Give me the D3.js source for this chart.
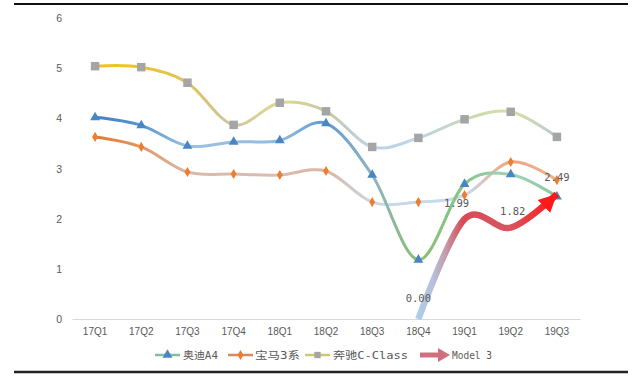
<!DOCTYPE html>
<html><head><meta charset="utf-8">
<script src="https://cdn.jsdelivr.net/npm/d3@7"></script>
<style>
html,body{margin:0;padding:0;background:#fff;}
svg{display:block;}
</style></head>
<body>
<svg id="c" width="640" height="376"></svg>
<script>
const categories = ["17Q1","17Q2","17Q3","17Q4","18Q1","18Q2","18Q3","18Q4","19Q1","19Q2","19Q3"];
const audiA4 = [4.02,3.86,3.45,3.53,3.56,3.90,2.87,1.18,2.69,2.88,2.44];
const bmw3 = [3.63,3.43,2.93,2.89,2.87,2.95,2.33,2.33,2.47,3.13,2.77];
const benzC = [5.04,5.02,4.71,3.87,4.31,4.14,3.43,3.61,3.98,4.13,3.63];
const model3Cats = ["18Q4","19Q1","19Q2","19Q3"];
const model3 = [0.00,1.99,1.82,2.49];
const yTicks = [0,1,2,3,4,5,6];
const seriesNames = ["奥迪A4","宝马3系","奔驰C-Class","Model 3"];

const svg = d3.select("#c");
const x = d3.scaleBand().domain(categories).range([72,580]);
const cx = d => x(d) + x.bandwidth()/2;
const y = d3.scaleLinear().domain([0,6]).range([319,18]);

// top / bottom rules
svg.append("line").attr("x1",14).attr("x2",628).attr("y1",4).attr("y2",4).attr("stroke","#111").attr("stroke-width",2);
svg.append("line").attr("x1",14).attr("x2",628).attr("y1",372).attr("y2",372).attr("stroke","#222").attr("stroke-width",2.5);

// y labels
svg.append("g").selectAll("text").data(yTicks).join("text")
  .attr("x",62).attr("y",d=>y(d)+4).attr("text-anchor","end")
  .attr("font-family","Liberation Sans, Arial, sans-serif").attr("font-size",10.5).attr("fill","#595959")
  .text(d=>d);

// x axis
const xAxis = d3.axisBottom(x).tickSize(0).tickPadding(9);
const gx = svg.append("g").attr("transform","translate(0,319)").call(xAxis);
gx.select(".domain").attr("stroke","#d9d9d9").attr("stroke-width",1.2);
gx.selectAll("text").attr("font-family","Liberation Sans, Arial, sans-serif").attr("font-size",10).attr("fill","#595959");

const defs = svg.append("defs");
function grad(id, colors, cats){
  const g = defs.append("linearGradient").attr("id",id).attr("gradientUnits","userSpaceOnUse")
    .attr("x1",cx(cats[0])).attr("x2",cx(cats[cats.length-1])).attr("y1",0).attr("y2",0);
  const x0 = cx(cats[0]), x1 = cx(cats[cats.length-1]);
  colors.forEach(c=>g.append("stop").attr("offset",((cx(cats[c[0]])-x0)/(x1-x0))).attr("stop-color",c[1]));
}
grad("gA",[[0,"#4182c3"],[1,"#5a95cc"],[2,"#9cc0e2"],[4,"#93bbe0"],[5,"#5d9bd3"],[6,"#8fb4bf"],[7,"#86c070"],[8,"#86c68a"],[9,"#a3d3bb"],[10,"#86c79a"]],categories);
grad("gB",[[0,"#e07a36"],[1,"#e39666"],[2,"#d9b9aa"],[4,"#d8bdb1"],[5,"#dcb4a2"],[6,"#c9d6e6"],[8,"#c6dcef"],[9,"#f0a47a"],[10,"#e9b696"]],categories);
grad("gC",[[0,"#f0c124"],[1,"#efc22e"],[2,"#e0c35c"],[3,"#c9c6a4"],[4,"#e3d88e"],[5,"#c8c8a8"],[6,"#bcd4e8"],[7,"#bfd5e6"],[8,"#c6d8b6"],[9,"#d8e0a0"],[10,"#b9c9d2"]],categories);
{
  const g = defs.append("linearGradient").attr("id","gM").attr("gradientUnits","userSpaceOnUse")
    .attr("x1",cx("18Q4")).attr("x2",cx("19Q3")).attr("y1",0).attr("y2",0);
  g.append("stop").attr("offset",0).attr("stop-color","#aecbea");
  g.append("stop").attr("offset",0.1).attr("stop-color","#b6c2dc");
  g.append("stop").attr("offset",0.2).attr("stop-color","#c49aaa");
  g.append("stop").attr("offset",0.32).attr("stop-color","#d84a54");
  g.append("stop").attr("offset",0.66).attr("stop-color","#d9555f");
  g.append("stop").attr("offset",1).attr("stop-color","#ff1515");
}
defs.append("marker").attr("id","arr").attr("markerUnits","userSpaceOnUse")
  .attr("viewBox","0 0 20 20").attr("refX",18).attr("refY",10).attr("markerWidth",20).attr("markerHeight",20).attr("orient","auto")
  .append("path").attr("d","M0,1 L18,10 L0,19 Z").attr("fill","#ff1a1a");

const line = d3.line().curve(d3.curveCardinal.tension(0)).x(d=>cx(d[0])).y(d=>y(d[1]));

function series(vals, gid){
  svg.append("path").datum(categories.map((c,i)=>[c,vals[i]])).attr("d",line)
    .attr("fill","none").attr("stroke","url(#"+gid+")").attr("stroke-width",3).attr("stroke-linecap","round");
}
series(benzC,"gC");
series(bmw3,"gB");
series(audiA4,"gA");

// markers
const tri = d3.symbol().type(d3.symbolTriangle).size(42);
const dia = d3.symbol().type(d3.symbolDiamond).size(30);
const sq = d3.symbol().type(d3.symbolSquare).size(72);
svg.append("g").selectAll("path").data(benzC).join("path").attr("d",sq)
  .attr("transform",(d,i)=>`translate(${cx(categories[i])},${y(d)})`).attr("fill","#a5a5a5");
svg.append("g").selectAll("path").data(bmw3).join("path").attr("d",dia)
  .attr("transform",(d,i)=>`translate(${cx(categories[i])},${y(d)})`).attr("fill","#ed7d31");
svg.append("g").selectAll("path").data(audiA4).join("path").attr("d",tri)
  .attr("transform",(d,i)=>`translate(${cx(categories[i])},${y(d)})`).attr("fill","#4a86c3");

// Model 3 arrow
svg.append("path").datum(model3Cats.map((c,i)=>[c,model3[i]])).attr("d",line)
  .attr("fill","none").attr("stroke","url(#gM)").attr("stroke-width",6.5).attr("marker-end","url(#arr)");

// data labels
const lblOff = [[0,-17],[-8,-12],[2,-13],[0,-13]];
svg.append("g").selectAll("text").data(model3).join("text")
  .attr("x",(d,i)=>cx(model3Cats[i])+lblOff[i][0]).attr("y",(d,i)=>y(d)+lblOff[i][1])
  .attr("text-anchor","middle").attr("font-family","DejaVu Sans Mono, monospace").attr("font-size",10.5).attr("fill","#595959")
  .text(d=>d.toFixed(2));

// legend
const lg = svg.append("g");
const ly = 355;
const legendItems = [
  {x:155, color:"#7fbf9f", mk:"tri", mcol:"#4a86c3", tx:183, tw:35},
  {x:228, color:"#d9875f", mk:"dia", mcol:"#ed7d31", tx:255, tw:45},
  {x:305, color:"#cbc870", mk:"sq", mcol:"#a5a5a5", tx:333, tw:75},
  {x:420, color:"#d0707f", mk:"arrow", mcol:"#d0707f", tx:452, tw:40}
];
legendItems.forEach((it,i)=>{
  if(it.mk==="arrow"){
    lg.append("line").attr("x1",it.x).attr("x2",it.x+20).attr("y1",ly).attr("y2",ly).attr("stroke",it.color).attr("stroke-width",5);
    lg.append("path").attr("d",`M${it.x+18},${ly-7} L${it.x+30},${ly} L${it.x+18},${ly+7} Z`).attr("fill",it.color);
  } else {
    lg.append("line").attr("x1",it.x).attr("x2",it.x+25).attr("y1",ly).attr("y2",ly).attr("stroke",it.color).attr("stroke-width",2.5);
    const sym = it.mk==="tri"?tri:it.mk==="dia"?dia:d3.symbol().type(d3.symbolSquare).size(40);
    lg.append("path").attr("d",sym).attr("transform",`translate(${it.x+12.5},${ly})`).attr("fill",it.mcol);
  }
  lg.append("text").attr("x",it.tx).attr("y",ly+4).attr("font-family","DejaVu Sans Mono, Noto Sans CJK SC, monospace")
    .attr("font-size",10.5).attr("fill","#595959").attr("textLength",it.tw).attr("lengthAdjust","spacingAndGlyphs").text(seriesNames[i]);
});
</script>
</body></html>
